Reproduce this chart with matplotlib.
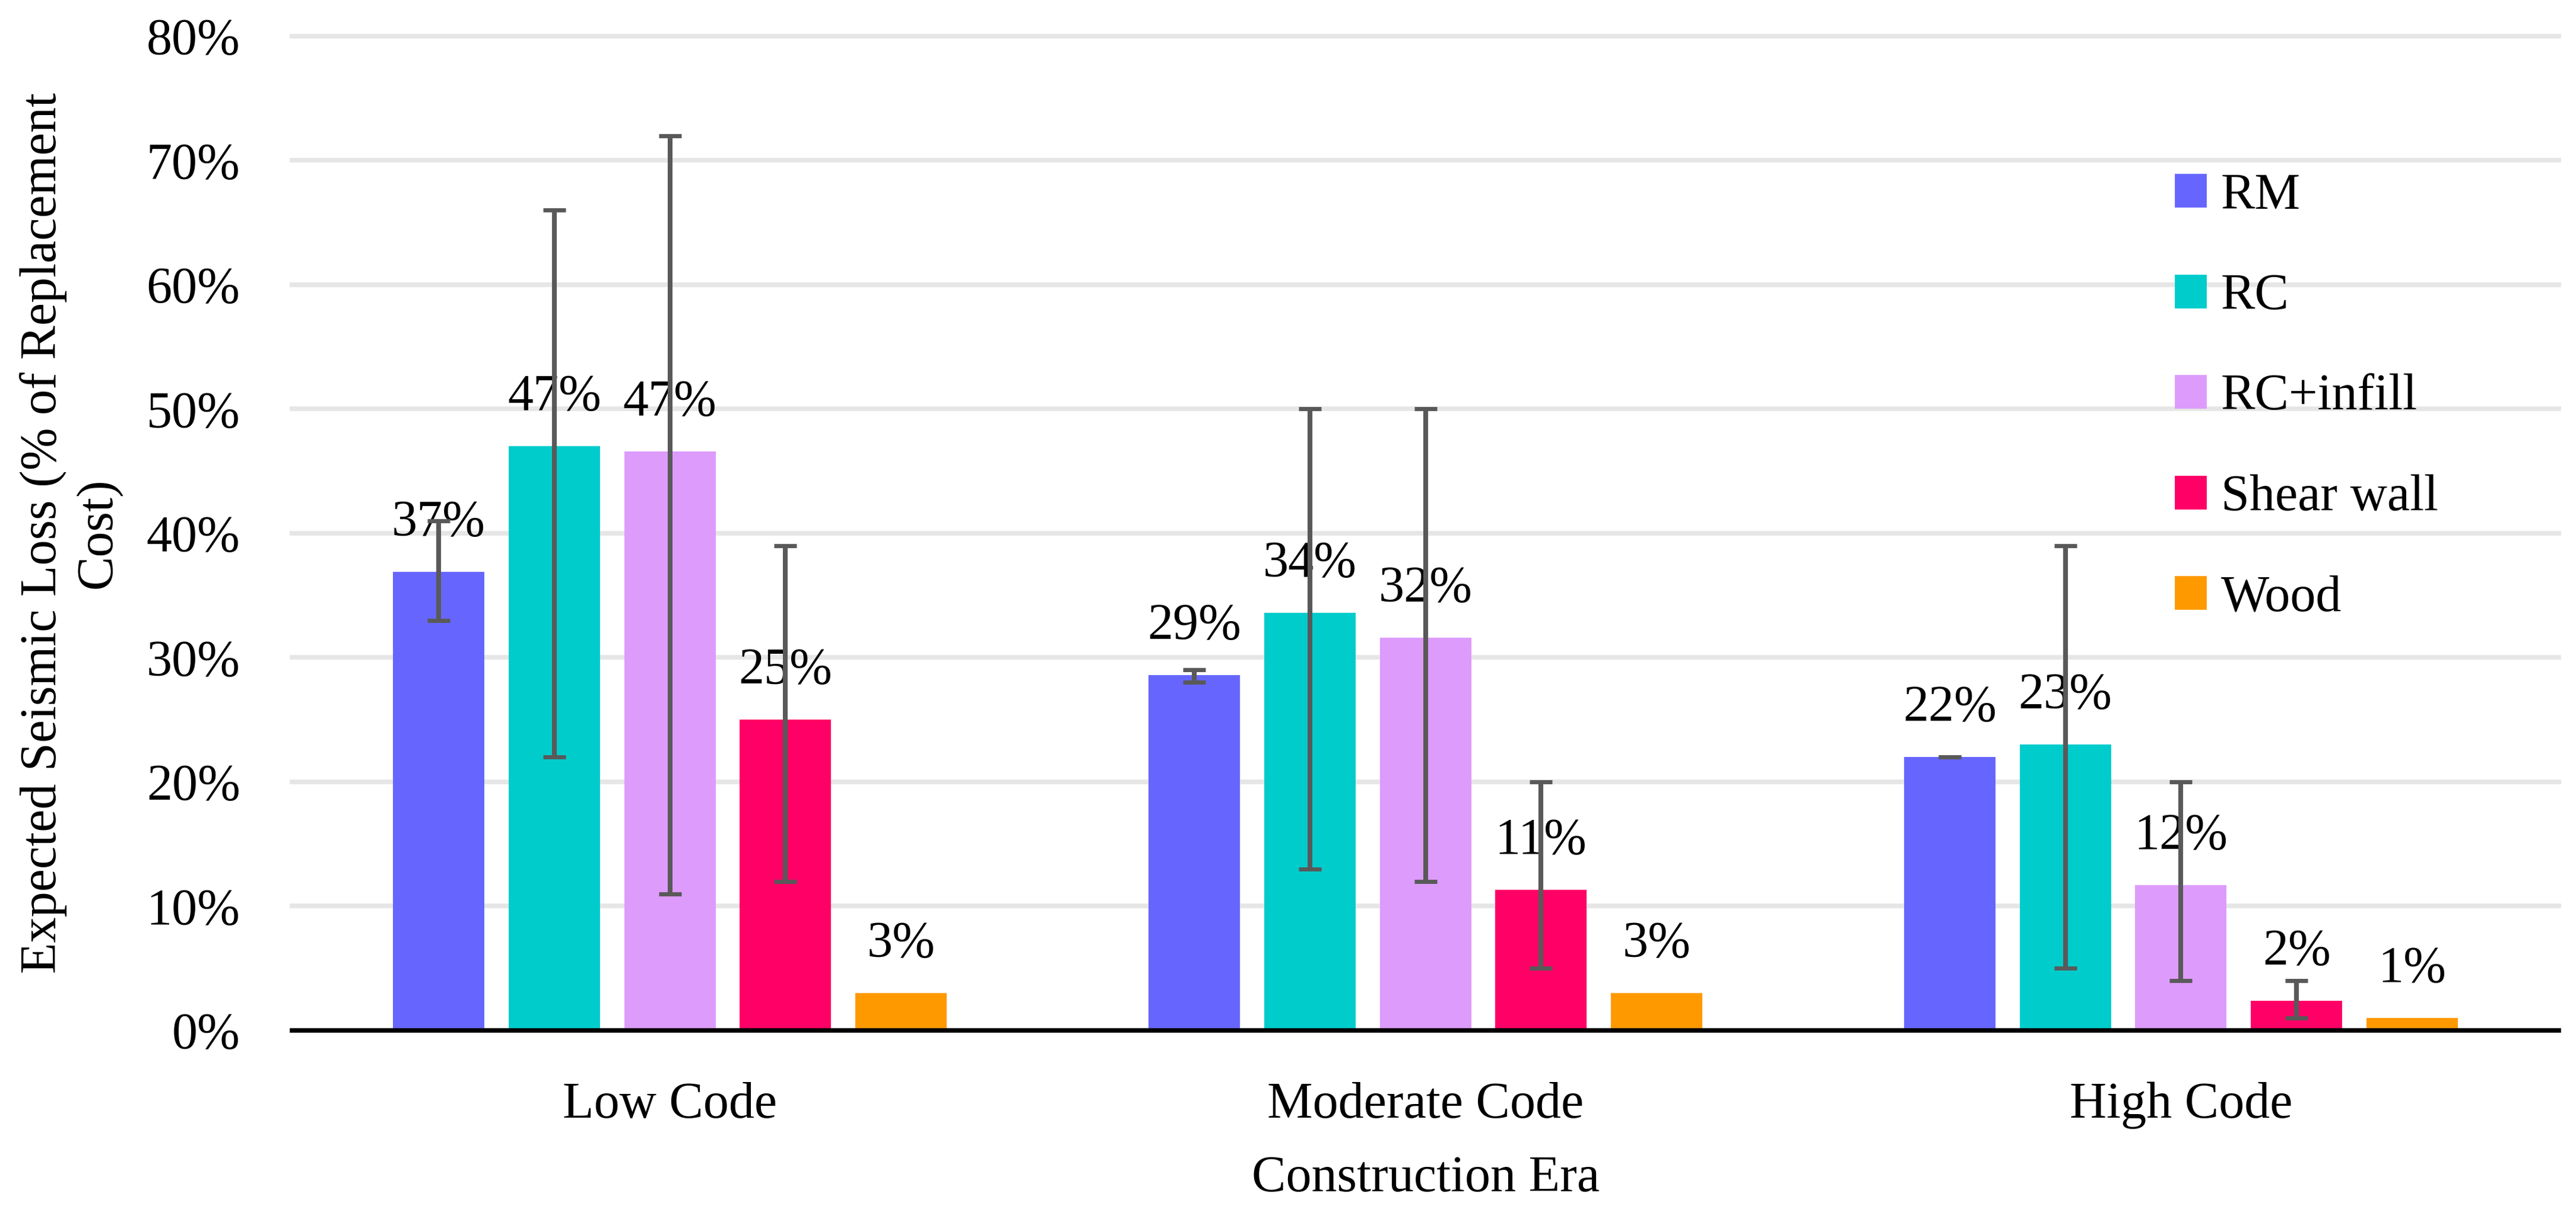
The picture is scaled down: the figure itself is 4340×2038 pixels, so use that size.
import numpy as np
import matplotlib
matplotlib.use('Agg')
import matplotlib.pyplot as plt
from matplotlib.patches import Patch
from matplotlib.ticker import PercentFormatter

# Data (values in %)
eras = ['Low Code', 'Moderate Code', 'High Code']
types = ['RM', 'RC', 'RC+infill', 'Shear wall', 'Wood']
colors = ['#6666FF', '#00CCCC', '#DD9BFC', '#FF0066', '#FF9900']

rm = [36.9, 28.6, 22.0]
rc = [47.0, 33.6, 23.0]
rc_infill = [46.6, 31.6, 11.7]
shear_wall = [25.0, 11.3, 2.4]
wood = [3.0, 3.0, 1.0]

# error bar ranges (min, max) per era; Wood has none
rm_range = [(33, 41), (28, 29), (22, 22)]
rc_range = [(22, 66), (13, 50), (5, 39)]
rc_infill_range = [(11, 72), (12, 50), (4, 20)]
shear_wall_range = [(12, 39), (5, 20), (1, 4)]

values = [rm, rc, rc_infill, shear_wall, wood]
ranges = [rm_range, rc_range, rc_infill_range, shear_wall_range, None]

plt.rcParams['font.family'] = 'Liberation Serif'
plt.rcParams['font.size'] = 31

fig = plt.figure(figsize=(21.7, 10.19), dpi=200)
ax = fig.add_axes([0.1134, 0.1477, 0.8799, 0.8224])

x = np.arange(len(eras))
step = 0.153
width = 0.121

for j, (name, vals, rng, col) in enumerate(zip(types, values, ranges, colors)):
    pos = x + (j - 2) * step
    ax.bar(pos, vals, width, color=col, label=name, zorder=2)
    if rng is not None:
        lo = [v - r[0] for v, r in zip(vals, rng)]
        hi = [r[1] - v for v, r in zip(vals, rng)]
        ax.errorbar(pos, vals, yerr=[lo, hi], fmt='none', ecolor='#595959',
                    elinewidth=2.9, capsize=6.8, capthick=2.5, zorder=5)
    for p, v in zip(pos, vals):
        ax.annotate(f'{v:.0f}%', (p, v), xytext=(0, 22), textcoords='offset points',
                    ha='center', va='baseline', fontsize=31, zorder=3)

ax.set_xlim(-0.5, 2.5)
ax.set_ylim(0, 80)
ax.set_yticks(np.arange(0, 81, 10))
ax.yaxis.set_major_formatter(PercentFormatter(decimals=0))
ax.set_xticks(x)
ax.set_xticklabels(eras)
ax.tick_params(axis='y', length=0, pad=31.5)
ax.tick_params(axis='x', length=0, pad=31)

ax.set_axisbelow(True)
ax.yaxis.grid(True, color='#E6E6E6', linewidth=2.8)
for gl in ax.get_ygridlines():
    gl.set_clip_on(False)

for s in ['top', 'right', 'left']:
    ax.spines[s].set_visible(False)
ax.spines['bottom'].set_linewidth(2.7)
ax.spines['bottom'].set_color('black')

ax.set_xlabel('Construction Era', labelpad=16)
fig.text(33 / 4340, 0.559, 'Expected Seismic Loss (% of Replacement\nCost)',
         rotation=90, ha='left', va='center', multialignment='center')

handles = [Patch(color=c, label=t) for t, c in zip(types, colors)]
fig.legend(handles=handles, loc='upper left', bbox_to_anchor=(3665 / 4340, 1 - 291 / 2038),
           bbox_transform=fig.transFigure, frameon=False, borderpad=0, borderaxespad=0,
           handlelength=0.59, handleheight=0.59, handletextpad=0.3, labelspacing=1.045,
           fontsize=31)

fig.savefig('out.png', dpi=200)
